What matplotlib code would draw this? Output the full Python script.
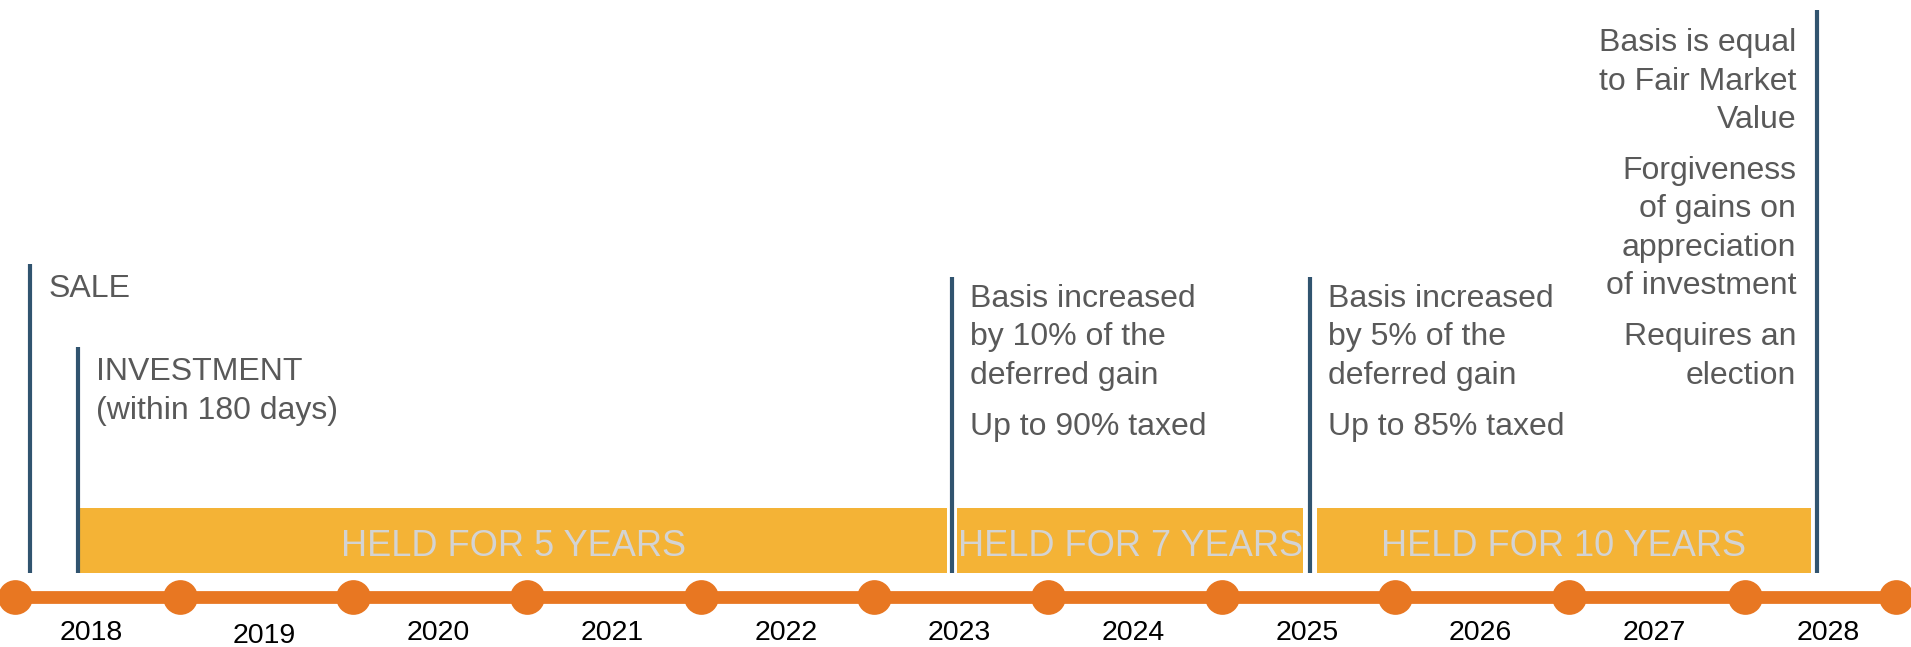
import matplotlib
matplotlib.use('Agg')
import matplotlib.pyplot as plt

plt.rcParams['font.family'] = ['Liberation Sans', 'DejaVu Sans']

# timeline data (x in years)
years = [2018, 2019, 2020, 2021, 2022, 2023, 2024, 2025, 2026, 2027, 2028]
dot_pos = [2017.56, 2018.51, 2019.51, 2020.51, 2021.51, 2022.51,
           2023.51, 2024.51, 2025.51, 2026.51, 2027.52, 2028.39]

# event markers
event_x = [2017.65, 2017.925, 2022.957, 2025.018, 2027.937]
event_notes = [
    [['SALE']],
    [['INVESTMENT', '(within 180 days)']],
    [['Basis increased', 'by 10% of the', 'deferred gain'], ['Up to 90% taxed']],
    [['Basis increased', 'by 5% of the', 'deferred gain'], ['Up to 85% taxed']],
    [['Basis is equal', 'to Fair Market', 'Value'],
     ['Forgiveness', 'of gains on', 'appreciation', 'of investment'],
     ['Requires an', 'election']],
]

# holding periods
bar_start = [2017.937, 2022.986, 2025.058]
bar_end = [2022.928, 2024.978, 2027.902]
bar_labels = ['HELD FOR 5 YEARS', 'HELD FOR 7 YEARS', 'HELD FOR 10 YEARS']

ORANGE = '#E87722'
GOLD = '#F4B336'
NAVY = '#31546F'
GREY = '#595959'

fig = plt.figure(figsize=(19.11, 6.47), dpi=100)
ax = fig.add_axes([0, 0, 1, 1])
ax.set_xlim(2017.476, 2028.478)
ax.set_ylim(647, 0)  # vertical layout in pixels from the top
ax.axis('off')

# gold bars
widths = [e - s for s, e in zip(bar_start, bar_end)]
ax.barh([540.5] * 3, widths, left=bar_start, height=65, color=GOLD, zorder=1)
for s, e, lab in zip(bar_start, bar_end, bar_labels):
    ax.text((s + e) / 2, 556, lab, ha='center', va='baseline',
            fontsize=26, color='#D3D3D3', zorder=2)

# vertical event lines + notes
line_top = [264, 347, 277, 277, 10]
first_base = [297, 380, 307, 307, 51]
for i, (x, notes) in enumerate(zip(event_x, event_notes)):
    ax.plot([x, x], [line_top[i], 573], color=NAVY, lw=3, solid_capstyle='butt', zorder=3)
    right = i == len(event_x) - 1
    y = first_base[i]
    for para in notes:
        for line in para:
            ax.annotate(line, xy=(x, y), xytext=(-21 if right else 18, 0),
                        textcoords='offset pixels', ha='right' if right else 'left',
                        va='baseline', fontsize=23, color=GREY)
            y += 38.5
        y += 12.5

# orange timeline
ax.plot(dot_pos, [597] * len(dot_pos), color=ORANGE, lw=9.2, marker='o',
        ms=25, mew=0, solid_capstyle='butt', zorder=4)

# year labels (2019 sits a touch lower in the original)
for yr in years:
    ax.text(yr, 643 if yr == 2019 else 640, str(yr), ha='center', va='baseline',
            fontsize=20.5, color='black')

fig.savefig('out.png', dpi=100)
